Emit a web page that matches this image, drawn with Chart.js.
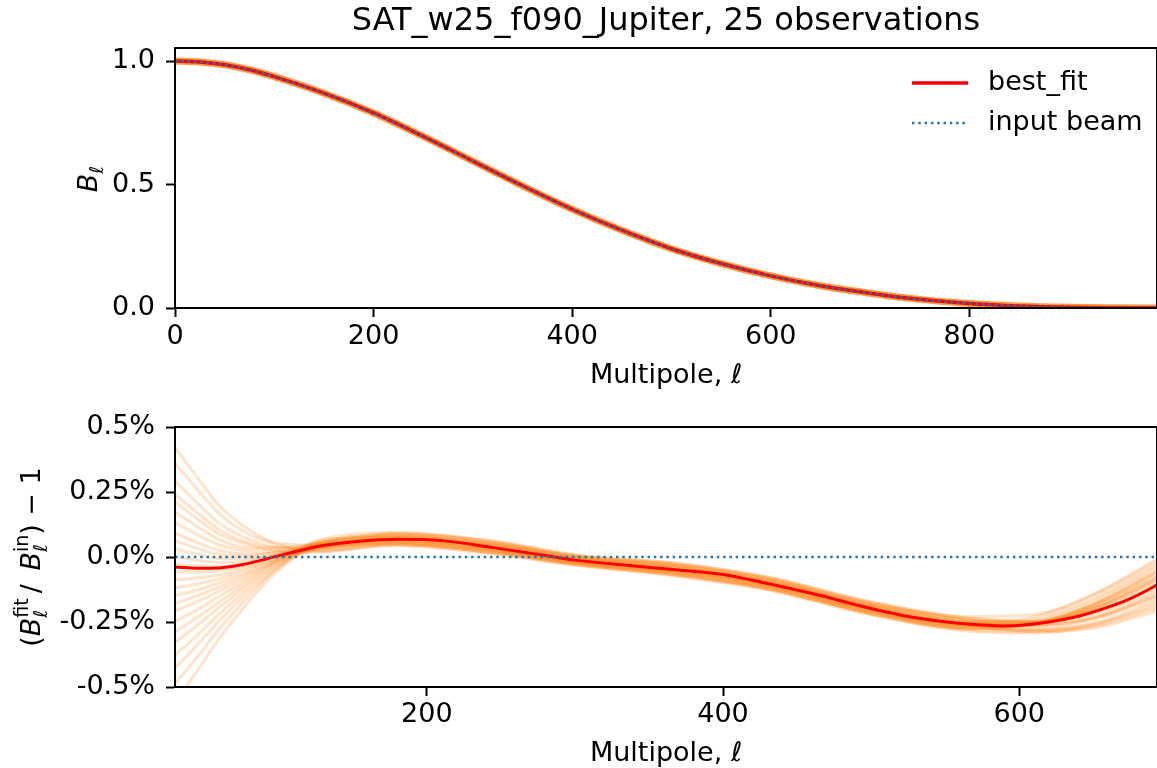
<!DOCTYPE html>
<html>
<head>
<meta charset="utf-8">
<script src="https://cdn.jsdelivr.net/npm/chart.js@4.4.0/dist/chart.umd.min.js"></script>
<style>
  html, body { margin: 0; padding: 0; background: #fff; overflow: hidden; }
  #wrap { position: relative; width: 1157px; height: 768px; }
  .panel { position: absolute; left: 0; }
  #top-panel { top: 0; }
  #bottom-panel { top: 395px; }
</style>
</head>
<body>
<div id="wrap">
  <div class="panel" id="top-panel"><canvas id="beamChart" width="1157" height="395"></canvas></div>
  <div class="panel" id="bottom-panel"><canvas id="residChart" width="1157" height="376"></canvas></div>
</div>
<script>
// ===== DATA =====
const TITLE   = 'SAT_w25_f090_Jupiter, 25 observations';
const X_LABEL = 'Multipole, ℓ';

// top panel: beam transfer function B_ell
const BEAM_ELL      = [0, 25, 50, 75, 100, 150, 200, 250, 300, 350, 400, 450, 500, 550, 600, 650, 700, 750, 800, 850, 900, 950, 989];
const BEST_FIT_BEAM = [1.000, 0.996, 0.985, 0.965, 0.937, 0.870, 0.790, 0.695, 0.595, 0.495, 0.400, 0.315, 0.240, 0.180, 0.130, 0.090, 0.060, 0.035, 0.018, 0.008, 0.003, 0.001, 0.000];
const INPUT_BEAM    = [1.000, 0.996, 0.985, 0.965, 0.937, 0.870, 0.790, 0.695, 0.595, 0.495, 0.400, 0.315, 0.240, 0.180, 0.130, 0.090, 0.060, 0.035, 0.018, 0.008, 0.003, 0.001, 0.000];
const BEAM_X_TICKS  = [0, 200, 400, 600, 800];
const BEAM_Y_TICKS  = [0, 0.5, 1.0];
const BEAM_Y_LABELS = ['0.0', '0.5', '1.0'];

// bottom panel: fractional residual in %
const RESID_ELL      = [30, 45, 60, 75, 90, 105, 130, 155, 180, 210, 245, 280, 300, 335, 370, 400, 430, 465, 500, 530, 565, 590, 620, 640, 660, 675, 693];
const BEST_FIT_RESID = [-0.038, -0.043, -0.042, -0.030, -0.010, 0.012, 0.044, 0.061, 0.068, 0.063, 0.036, 0.006, -0.012, -0.032, -0.050, -0.067, -0.102, -0.147, -0.198, -0.234, -0.258, -0.265, -0.250, -0.228, -0.193, -0.160, -0.108];
const INPUT_ELL      = [30, 693];
const INPUT_RESID    = [0, 0];

// per-observation residuals, sampled at OBS_ELL
const OBS_ELL = [30, 45, 60, 80, 100, 130, 180, 245, 300, 370, 430, 500, 565, 610, 650, 693];
const OBS_01 = [0.422, 0.307, 0.197, 0.105, 0.047, 0.020, 0.053, 0.021, -0.024, -0.065, -0.117, -0.213, -0.279, -0.287, -0.254, -0.168];
const OBS_02 = [0.362, 0.261, 0.166, 0.088, 0.051, 0.046, 0.088, 0.056, 0.004, -0.030, -0.082, -0.178, -0.229, -0.221, -0.146, -0.018];
const OBS_03 = [0.292, 0.208, 0.130, 0.068, 0.037, 0.031, 0.063, 0.031, -0.016, -0.055, -0.107, -0.203, -0.260, -0.254, -0.192, -0.078];
const OBS_04 = [0.242, 0.170, 0.104, 0.054, 0.036, 0.043, 0.078, 0.046, -0.004, -0.040, -0.092, -0.188, -0.256, -0.278, -0.259, -0.188];
const OBS_05 = [0.212, 0.147, 0.088, 0.046, 0.024, 0.023, 0.048, 0.016, -0.028, -0.070, -0.122, -0.218, -0.273, -0.257, -0.184, -0.058];
const OBS_06 = [0.172, 0.117, 0.067, 0.035, 0.034, 0.055, 0.093, 0.061, 0.008, -0.025, -0.077, -0.173, -0.235, -0.251, -0.216, -0.128];
const OBS_07 = [0.132, 0.086, 0.046, 0.024, 0.022, 0.039, 0.068, 0.036, -0.012, -0.050, -0.102, -0.198, -0.248, -0.230, -0.145, -0.008];
const OBS_08 = [0.092, 0.056, 0.026, 0.012, 0.015, 0.033, 0.058, 0.026, -0.020, -0.060, -0.112, -0.208, -0.272, -0.278, -0.239, -0.148];
const OBS_09 = [0.062, 0.033, 0.010, 0.004, 0.020, 0.052, 0.083, 0.051, 0.000, -0.035, -0.087, -0.183, -0.242, -0.248, -0.199, -0.098];
const OBS_10 = [0.032, 0.010, -0.006, -0.004, 0.005, 0.024, 0.043, 0.011, -0.032, -0.075, -0.127, -0.223, -0.277, -0.257, -0.179, -0.048];
const OBS_11 = [0.002, -0.013, -0.021, -0.013, 0.011, 0.046, 0.073, 0.041, -0.008, -0.045, -0.097, -0.193, -0.263, -0.287, -0.274, -0.208];
const OBS_12 = [-0.028, -0.035, -0.037, -0.021, 0.003, 0.037, 0.058, 0.026, -0.020, -0.060, -0.112, -0.208, -0.266, -0.260, -0.200, -0.088];
const OBS_13 = [-0.058, -0.058, -0.052, -0.030, 0.009, 0.059, 0.088, 0.056, 0.004, -0.030, -0.082, -0.178, -0.243, -0.263, -0.237, -0.158];
const OBS_14 = [-0.088, -0.081, -0.068, -0.038, -0.005, 0.035, 0.053, 0.021, -0.024, -0.065, -0.117, -0.213, -0.266, -0.248, -0.169, -0.038];
const OBS_15 = [-0.118, -0.104, -0.084, -0.046, 0.000, 0.053, 0.078, 0.046, -0.004, -0.040, -0.092, -0.188, -0.251, -0.263, -0.227, -0.138];
const OBS_16 = [-0.148, -0.127, -0.099, -0.055, -0.006, 0.047, 0.068, 0.036, -0.012, -0.050, -0.102, -0.198, -0.254, -0.248, -0.184, -0.068];
const OBS_17 = [-0.178, -0.149, -0.115, -0.063, -0.015, 0.034, 0.048, 0.016, -0.028, -0.070, -0.122, -0.218, -0.285, -0.293, -0.262, -0.178];
const OBS_18 = [-0.208, -0.172, -0.130, -0.072, -0.008, 0.060, 0.083, 0.051, 0.000, -0.035, -0.087, -0.183, -0.243, -0.251, -0.206, -0.108];
const OBS_19 = [-0.248, -0.203, -0.151, -0.083, -0.018, 0.047, 0.063, 0.031, -0.016, -0.055, -0.107, -0.203, -0.255, -0.239, -0.160, -0.028];
const OBS_20 = [-0.288, -0.233, -0.172, -0.094, -0.013, 0.069, 0.093, 0.061, 0.008, -0.025, -0.077, -0.173, -0.234, -0.248, -0.209, -0.118];
const OBS_21 = [-0.328, -0.263, -0.193, -0.105, -0.027, 0.046, 0.058, 0.026, -0.020, -0.060, -0.112, -0.208, -0.265, -0.257, -0.194, -0.078];
const OBS_22 = [-0.378, -0.301, -0.219, -0.119, -0.028, 0.058, 0.073, 0.041, -0.008, -0.045, -0.097, -0.193, -0.262, -0.284, -0.267, -0.198];
const OBS_23 = [-0.428, -0.339, -0.245, -0.133, -0.040, 0.042, 0.048, 0.016, -0.028, -0.070, -0.122, -0.218, -0.273, -0.257, -0.184, -0.058];
const OBS_24 = [-0.488, -0.385, -0.276, -0.150, -0.037, 0.065, 0.078, 0.046, -0.004, -0.040, -0.092, -0.188, -0.252, -0.266, -0.233, -0.148];
const OBS_25 = [-0.558, -0.438, -0.312, -0.170, -0.049, 0.056, 0.063, 0.031, -0.016, -0.055, -0.107, -0.203, -0.261, -0.257, -0.199, -0.088];
const OBSERVATIONS = [OBS_01, OBS_02, OBS_03, OBS_04, OBS_05, OBS_06, OBS_07, OBS_08, OBS_09, OBS_10,
                      OBS_11, OBS_12, OBS_13, OBS_14, OBS_15, OBS_16, OBS_17, OBS_18, OBS_19, OBS_20,
                      OBS_21, OBS_22, OBS_23, OBS_24, OBS_25];

const RESID_X_TICKS  = [200, 400, 600];
const RESID_Y_TICKS  = [-0.5, -0.25, 0, 0.25, 0.5];
const RESID_Y_LABELS = ['-0.5%', '-0.25%', '0.0%', '0.25%', '0.5%'];

const LEGEND_ORDER = ['best_fit', 'input beam'];

// ===== STYLE =====
const RED    = '#ff0000';
const BLUE   = '#1f77b4';
const ORANGE = 'rgba(255,127,14,0.22)';
const FONT   = 'DejaVu Sans';
const FS     = 27;

Chart.defaults.font.family = FONT;
Chart.defaults.color = '#000';

const pts = (xs, ys) => xs.map((x, i) => ({ x, y: ys[i] }));

function lineDs(label, xs, ys, color, width, extra) {
  return Object.assign({
    label, data: pts(xs, ys),
    borderColor: color, borderWidth: width,
    pointRadius: 0, fill: false,
    cubicInterpolationMode: 'monotone', clip: 0
  }, extra || {});
}

const tickGrid = { display: true, drawOnChartArea: false, drawTicks: true, tickLength: 9, tickWidth: 2, tickColor: '#000' };

function axisX(min, max, ticks, tickPad, titlePad, height) {
  return {
    type: 'linear', min, max,
    afterBuildTicks: s => { s.ticks = ticks.map(v => ({ value: v })); },
    afterFit: s => { s.height = height; },
    ticks: { font: { size: FS }, padding: tickPad, maxRotation: 0, callback: v => String(v) },
    grid: tickGrid,
    border: { display: true, color: '#000', width: 2 },
    title: { display: true, text: X_LABEL, font: { size: FS }, padding: { top: 0, bottom: titlePad } }
  };
}

function axisY(min, max, ticks, labels) {
  return {
    type: 'linear', min, max,
    afterBuildTicks: s => { s.ticks = ticks.map(v => ({ value: v })); },
    afterFit: s => { s.width = 175; },
    ticks: { font: { size: FS }, padding: 11, callback: v => labels[ticks.indexOf(v)] },
    grid: tickGrid,
    border: { display: true, color: '#000', width: 2 }
  };
}

// full box around the axes (top and right spines)
const frame = {
  id: 'frame',
  afterDatasetsDraw(chart) {
    const { ctx, chartArea: a } = chart;
    ctx.save();
    ctx.strokeStyle = '#000';
    ctx.lineWidth = 2;
    ctx.strokeRect(a.left, a.top, a.right - a.left, a.bottom - a.top);
    ctx.restore();
  }
};

const beamLegend = {
  id: 'beamLegend',
  afterDraw(chart) {
    const { ctx } = chart;
    LEGEND_ORDER.forEach((name, i) => {
      const d = chart.data.datasets.find(ds => ds.label === name);
      const y = 83 + i * 40;
      ctx.save();
      ctx.strokeStyle = d.borderColor;
      ctx.lineWidth = d.borderWidth;
      ctx.setLineDash(d.borderDash || []);
      ctx.beginPath(); ctx.moveTo(912, y); ctx.lineTo(968, y); ctx.stroke();
      ctx.setLineDash([]);
      ctx.fillStyle = '#000';
      ctx.font = `${FS}px "${FONT}"`;
      ctx.textBaseline = 'middle';
      ctx.fillText(d.label, 988, y);
      ctx.restore();
    });
  }
};

// rotated y label with sub/superscripts
function richYLabel(id, parts, cx, cy) {
  return {
    id,
    afterDraw(chart) {
      const { ctx } = chart;
      ctx.save();
      ctx.translate(cx, cy);
      ctx.rotate(-Math.PI / 2);
      ctx.fillStyle = '#000';
      ctx.textBaseline = 'alphabetic';
      const widthOf = p => {
        if (p.gap) return p.gap;
        const items = p.stack || [p];
        return Math.max(...items.map(it => { ctx.font = it.font; return ctx.measureText(it.text).width; }));
      };
      const widths = parts.map(widthOf);
      let x = -widths.reduce((a, b) => a + b, 0) / 2;
      parts.forEach((p, i) => {
        if (!p.gap) {
          (p.stack || [p]).forEach(it => {
            ctx.font = it.font;
            ctx.fillText(it.text, x, 10 + (it.dy || 0));
          });
        }
        x += widths[i];
      });
      ctx.restore();
    }
  };
}

const F_MAIN  = `${FS}px "${FONT}"`;
const F_ITAL  = `italic ${FS}px "${FONT}"`;
const F_SMALL = `19px "${FONT}"`;
const F_SITAL = `italic 19px "${FONT}"`;

const topYLabel = richYLabel('topYLabel', [
  { text: 'B', font: F_ITAL },
  { text: 'ℓ', font: F_SITAL, dy: 6 }
], 87, 179);

const bottomYLabel = richYLabel('bottomYLabel', [
  { text: '(', font: F_MAIN },
  { text: 'B', font: F_ITAL },
  { stack: [{ text: 'fit', font: F_SMALL, dy: -12 }, { text: 'ℓ', font: F_SITAL, dy: 7 }] },
  { gap: 5 },
  { text: '/', font: F_MAIN },
  { gap: 5 },
  { text: ' B', font: F_ITAL },
  { stack: [{ text: 'in', font: F_SMALL, dy: -12 }, { text: 'ℓ', font: F_SITAL, dy: 7 }] },
  { text: ')', font: F_MAIN },
  { text: ' − 1', font: F_MAIN }
], 30, 162);

const common = {
  responsive: false,
  animation: false,
  events: [],
  layout: { padding: { left: 0, right: 0, top: 0, bottom: 0 } },
  plugins: { legend: { display: false }, tooltip: { enabled: false } }
};

// ===== TOP: B_ell =====
new Chart(document.getElementById('beamChart'), {
  type: 'line',
  data: {
    datasets: [
      lineDs('input beam', BEAM_ELL, INPUT_BEAM, BLUE, 2.5, { borderDash: [2.5, 3.8], order: 0 }),
      lineDs('best_fit', BEAM_ELL, BEST_FIT_BEAM, RED, 3.5, { order: 1 }),
      lineDs('observations', BEAM_ELL, BEST_FIT_BEAM, 'rgba(255,135,30,0.85)', 7, { order: 2 })
    ]
  },
  options: Object.assign({}, common, {
    plugins: Object.assign({}, common.plugins, {
      title: { display: true, text: TITLE, fullSize: false, font: { size: 32, weight: 'normal' }, padding: { top: 2, bottom: 7.6 } }
    }),
    scales: {
      x: axisX(0, 989, BEAM_X_TICKS, 4, 3, 87),
      y: axisY(0, 1.053, BEAM_Y_TICKS, BEAM_Y_LABELS)
    }
  }),
  plugins: [frame, beamLegend, topYLabel]
});

// ===== BOTTOM: residuals =====
const residSets = [
  lineDs('input beam', INPUT_ELL, INPUT_RESID, BLUE, 2.5, { borderDash: [2.5, 3.8], order: 0 }),
  lineDs('best_fit', RESID_ELL, BEST_FIT_RESID, RED, 3, { order: 1 })
].concat(OBSERVATIONS.map((obs, i) => lineDs('obs ' + (i + 1), OBS_ELL, obs, ORANGE, 3, { order: 2 })));

new Chart(document.getElementById('residChart'), {
  type: 'line',
  data: { datasets: residSets },
  options: Object.assign({}, common, {
    layout: { padding: { left: 0, right: 0, top: 32, bottom: 0 } },
    scales: {
      x: axisX(30, 693, RESID_X_TICKS, 3, 1, 84),
      y: axisY(-0.5, 0.5, RESID_Y_TICKS, RESID_Y_LABELS)
    }
  }),
  plugins: [frame, bottomYLabel]
});
</script>
</body>
</html>
